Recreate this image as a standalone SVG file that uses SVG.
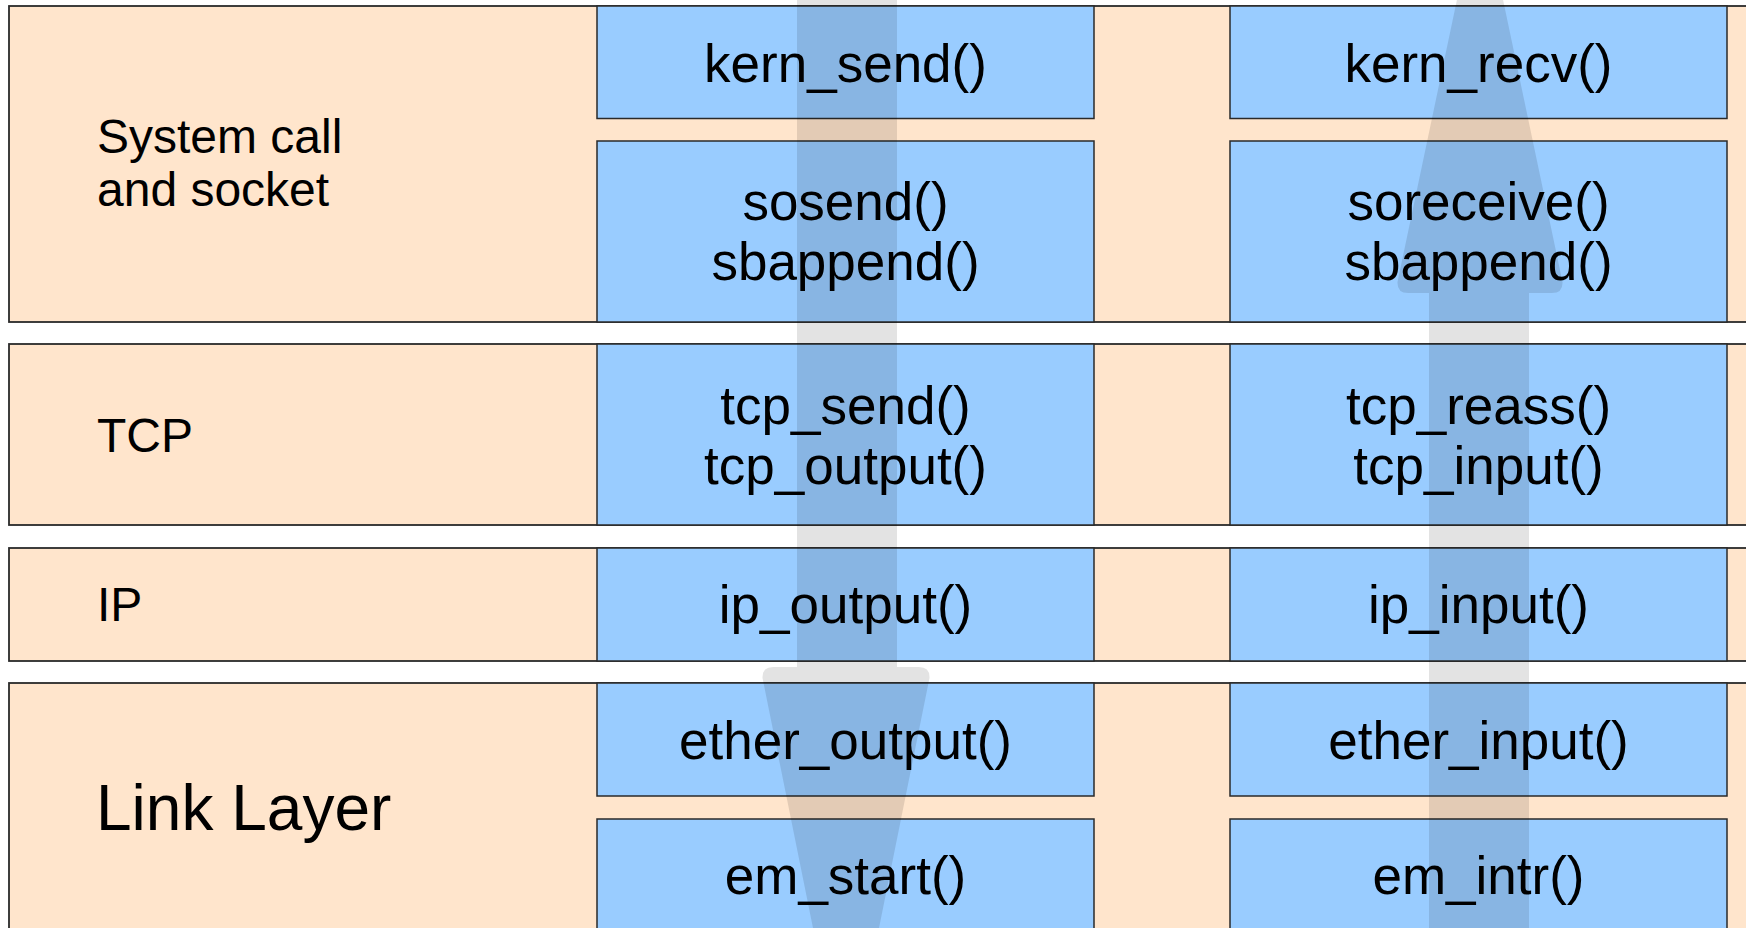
<svg xmlns="http://www.w3.org/2000/svg" width="1746" height="928" viewBox="0 0 1746 928">
  <style>
    .layer { fill: #ffe5cc; stroke: #2a2a2a; stroke-width: 1.8; }
    .fn { fill: #99ccff; stroke: #2a2a2a; stroke-width: 1.5; }
    .lbl { font-family: "Liberation Sans", Arial, sans-serif; font-size: 48px; fill: #000; }
    .big { font-size: 64px; }
    .ft { font-family: "Liberation Sans", Arial, sans-serif; font-size: 53px; fill: #000; text-anchor: middle; }
    .flow { fill: #000; fill-opacity: 0.11; stroke: none; }
  </style>
  <rect x="0" y="0" width="1746" height="928" fill="#ffffff"/>

  <g id="layer-syscall">
    <rect class="layer" x="9" y="6" width="1760" height="316"/>
    <text class="lbl" x="97" y="153">System call</text>
    <text class="lbl" x="97" y="206">and socket</text>
  </g>
  <g id="layer-tcp">
    <rect class="layer" x="9" y="344" width="1760" height="181"/>
    <text class="lbl" x="97" y="452">TCP</text>
  </g>
  <g id="layer-ip">
    <rect class="layer" x="9" y="548" width="1760" height="113"/>
    <text class="lbl" x="97" y="621">IP</text>
  </g>
  <g id="layer-link">
    <rect class="layer" x="9" y="683" width="1760" height="270"/>
    <text class="lbl big" x="96" y="830">Link Layer</text>
  </g>

  <g id="kern_send">
    <rect class="fn" x="597" y="6" width="497" height="112.5"/>
    <text class="ft" x="845.5" y="81.5">kern_send()</text>
  </g>
  <g id="sosend">
    <rect class="fn" x="597" y="141" width="497" height="181"/>
    <text class="ft" x="845.5" y="220">sosend()</text>
    <text class="ft" x="845.5" y="279.5">sbappend()</text>
  </g>
  <g id="tcp_send">
    <rect class="fn" x="597" y="344" width="497" height="181"/>
    <text class="ft" x="845.5" y="424.3">tcp_send()</text>
    <text class="ft" x="845.5" y="484.3">tcp_output()</text>
  </g>
  <g id="ip_output">
    <rect class="fn" x="597" y="548" width="497" height="113"/>
    <text class="ft" x="845.5" y="622.7">ip_output()</text>
  </g>
  <g id="ether_output">
    <rect class="fn" x="597" y="683" width="497" height="113"/>
    <text class="ft" x="845.5" y="758.5">ether_output()</text>
  </g>
  <g id="em_start">
    <rect class="fn" x="597" y="819" width="497" height="113"/>
    <text class="ft" x="845.5" y="893.5">em_start()</text>
  </g>

  <g id="kern_recv">
    <rect class="fn" x="1230" y="6" width="497" height="112.5"/>
    <text class="ft" x="1478.5" y="81.5">kern_recv()</text>
  </g>
  <g id="soreceive">
    <rect class="fn" x="1230" y="141" width="497" height="181"/>
    <text class="ft" x="1478.5" y="220">soreceive()</text>
    <text class="ft" x="1478.5" y="279.5">sbappend()</text>
  </g>
  <g id="tcp_reass">
    <rect class="fn" x="1230" y="344" width="497" height="181"/>
    <text class="ft" x="1478.5" y="424.3">tcp_reass()</text>
    <text class="ft" x="1478.5" y="484.3">tcp_input()</text>
  </g>
  <g id="ip_input">
    <rect class="fn" x="1230" y="548" width="497" height="113"/>
    <text class="ft" x="1478.5" y="622.7">ip_input()</text>
  </g>
  <g id="ether_input">
    <rect class="fn" x="1230" y="683" width="497" height="113"/>
    <text class="ft" x="1478.5" y="758.5">ether_input()</text>
  </g>
  <g id="em_intr">
    <rect class="fn" x="1230" y="819" width="497" height="113"/>
    <text class="ft" x="1478.5" y="893.5">em_intr()</text>
  </g>

  <g id="connectors">
    <path class="flow" d="M797,-10 L797,667 L773,667 Q762,667 762.5,678 L815.4,940 L876.6,940 L929.5,678 Q930,667 919,667 L897,667 L897,-10 Z"/>
    <path class="flow" d="M1429,940 L1429,293 L1408,293 Q1397,293 1397.5,282 L1459,-10 L1501,-10 L1562.5,282 Q1563,293 1552,293 L1529,293 L1529,940 Z"/>
  </g>
</svg>
